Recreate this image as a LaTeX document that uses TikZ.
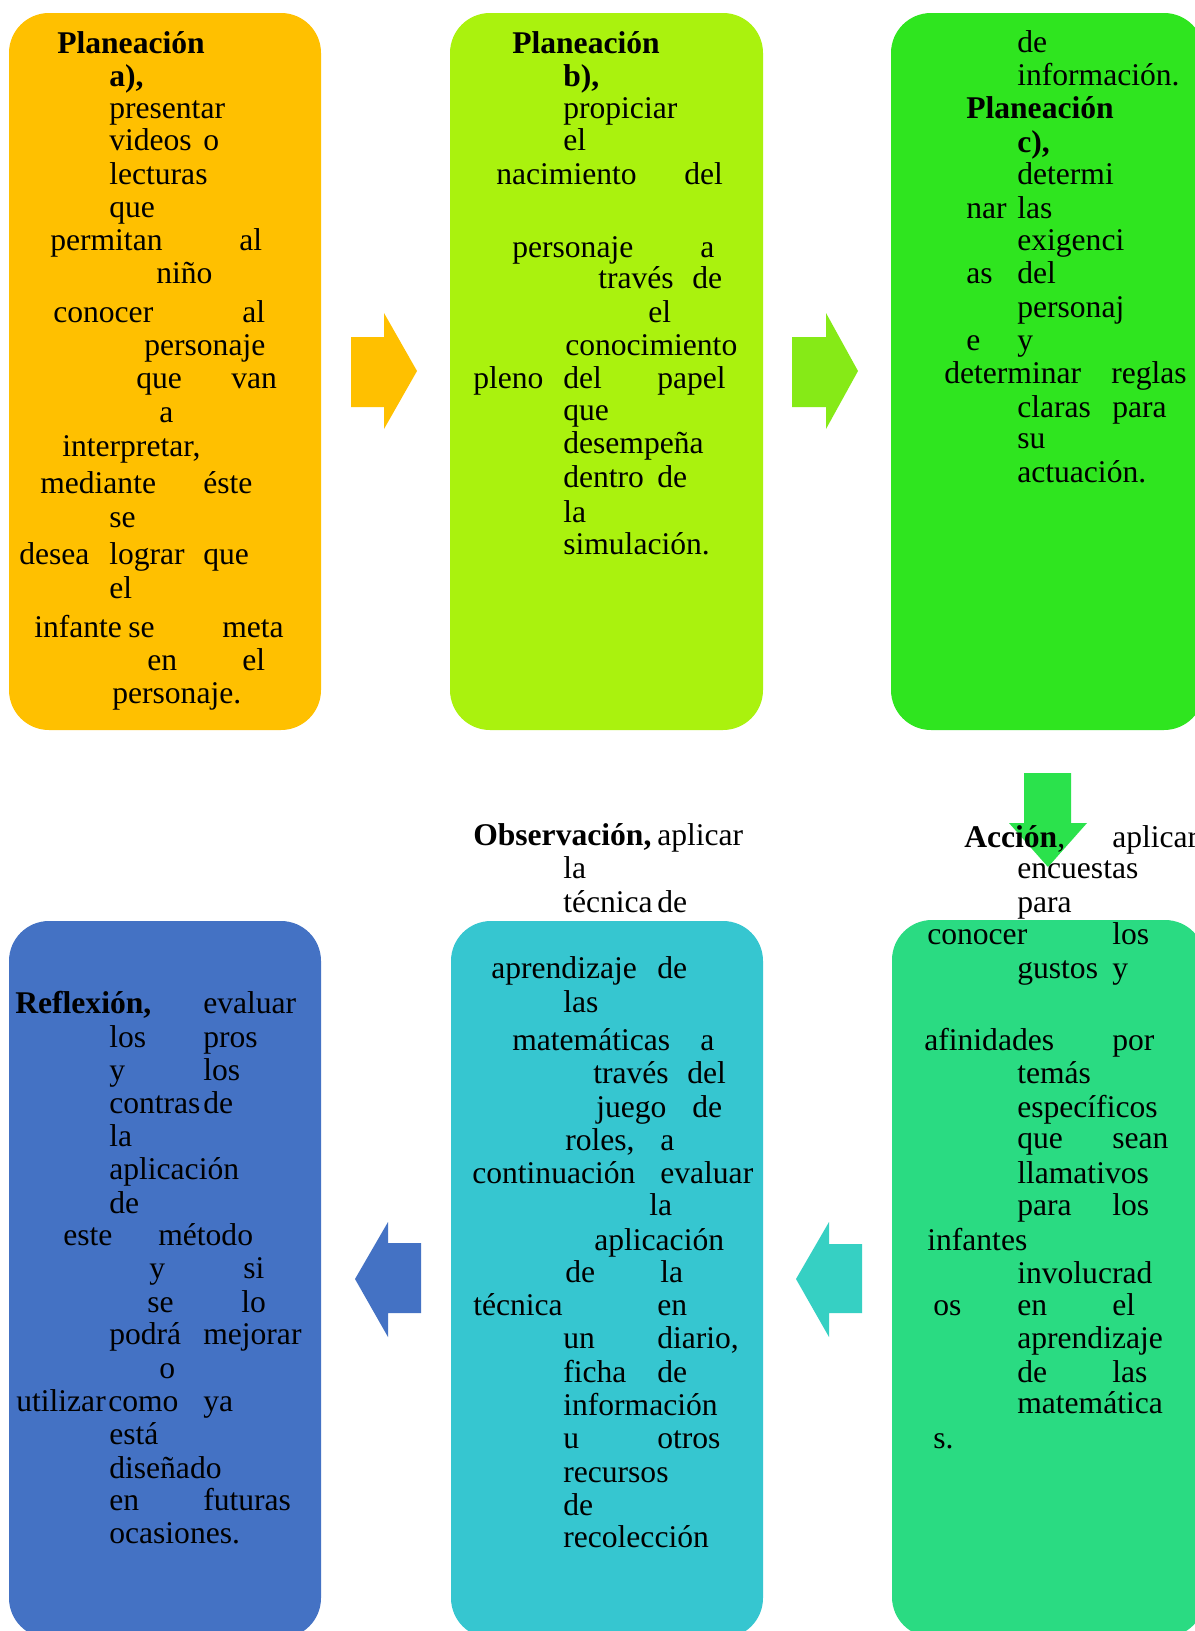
\documentclass[tikz,border=0pt]{standalone}
\usepackage{fontspec}
\setmainfont{Liberation Serif}
\definecolor{naranja}{HTML}{FFC000}
\definecolor{lima}{HTML}{AAF20E}
\definecolor{verde}{HTML}{2FE51F}
\definecolor{verdeflecha}{HTML}{86EA17}
\definecolor{verdebaja}{HTML}{2BE24C}
\definecolor{menta}{HTML}{2ADB82}
\definecolor{turquesa}{HTML}{36C6D0}
\definecolor{turqflecha}{HTML}{36D0C3}
\definecolor{azul}{HTML}{4472C4}
\begin{document}
\begin{tikzpicture}[x=0.75pt,y=-0.75pt, line join=round,
    wd/.style={anchor=base west, inner sep=0pt, font=\fontsize{23.7}{25}\selectfont},
    caja/.style={rounded corners=30pt}]
    \useasboundingbox (0,0) rectangle (1195,1631);
    \clip (0,0) rectangle (1195,1631);
    \fill[white] (0,0) rectangle (1195,1631);
    % cajas
    \fill[naranja,caja] (9,13) rectangle (321,730);
    \fill[lima,caja] (450,13) rectangle (763,730);
    \fill[verde,caja] (891,13) rectangle (1204,730);
    \fill[menta,caja] (892,920) rectangle (1205,1637);
    \fill[turquesa,caja] (451,921) rectangle (763,1638);
    \fill[azul,caja] (9,921) rectangle (321,1638);
    % flechas
    \fill[naranja] (351,337)--(384,337)--(384,313)--(417,371)--(384,429)--(384,407)--(351,407)--cycle;
    \fill[verdeflecha] (792,337)--(826,337)--(826,313)--(858,371)--(826,429)--(826,407)--(792,407)--cycle;
    \fill[verdebaja] (1024,773)--(1071,773)--(1071,823)--(1087,823)--(1048,867)--(1009,823)--(1024,823)--cycle;
    \fill[turqflecha] (862,1244)--(829,1244)--(829,1222)--(796,1279)--(829,1337)--(829,1313)--(862,1313)--cycle;
    \fill[azul] (421,1243)--(388,1243)--(388,1222)--(355,1279)--(388,1337)--(388,1313)--(421,1313)--cycle;
    % textos
    \foreach \x/\y/\t [count=\i] in {57/53/{\textbf{Planeación}}, 109/86/{\textbf{a),}}, 109/118/presentar,
        109/150/videos, 203/150/o, 109/184/lecturas, 109/217/que, 50/250/permitan, 239/250/al,
        156/283/niño, 53/322/conocer, 242/322/al, 144/355/personaje, 136/388/que, 231/388/van,
        159/422/a, 62/456/{interpretar,}, 40/493/mediante, 203/493/éste, 109/527/se,
        19/564/desea, 109/564/lograr, 203/564/que, 109/598/el, 34/637/infante, 128/637/se,
        222/637/meta, 147/670/en, 242/670/el, 112/703/personaje.}
        \node[wd] (a\i) at (\x,\y) {\t};
    \foreach \x/\y/\t [count=\i] in {512/53/{\textbf{Planeación}}, 563/86/{\textbf{b),}}, 563/118/propiciar,
        563/150/el, 496/184/nacimiento, 684/184/del, 512/257/personaje, 700/257/a,
        598/288/través, 692/288/de, 648/322/el, 565/355/conocimiento, 473/388/pleno,
        563/388/del, 657/388/papel, 563/420/que, 563/453/desempeña, 563/487/dentro,
        657/487/de, 563/522/la, 563/554/simulación.}
        \node[wd] (b\i) at (\x,\y) {\t};
    \foreach \x/\y/\t [count=\i] in {1017/52/de, 1017/85/información., 966/118/{\textbf{Planeación}},
        1017/152/{\textbf{c),}}, 1017/184/determi, 966/218/nar, 1017/218/las, 1017/250/exigenci,
        966/283/as, 1017/283/del, 1017/317/personaj, 966/350/e, 1017/350/y,
        944/383/determinar, 1111/383/reglas, 1017/417/claras, 1112/417/para,
        1017/448/su, 1017/482/actuación.}
        \node[wd] (c\i) at (\x,\y) {\t};
    \foreach \x/\y/\t [count=\i] in {964/847/{\textbf{Acción},}, 1112/847/aplicar, 1017/878/encuestas,
        1017/912/para, 927/944/conocer, 1112/944/los, 1017/978/gustos, 1112/978/y,
        924/1050/afinidades, 1112/1050/por, 1017/1083/temás, 1017/1117/específicos,
        1017/1148/que, 1112/1148/sean, 1017/1183/llamativos, 1017/1215/para, 1112/1215/los,
        927/1250/infantes, 1017/1283/involucrad, 933/1315/os, 1017/1315/en, 1112/1315/el,
        1017/1348/aprendizaje, 1017/1382/de, 1112/1382/las, 1017/1413/matemática, 933/1448/s.}
        \node[wd] (d\i) at (\x,\y) {\t};
    \foreach \x/\y/\t [count=\i] in {473/845/{\textbf{Observación,}}, 657/845/aplicar, 563/878/la,
        563/912/técnica, 657/912/de, 491/978/aprendizaje, 657/978/de, 563/1012/las,
        512/1050/matemáticas, 700/1050/a, 593/1083/través, 687/1083/del, 596/1117/juego,
        692/1117/de, 565/1150/{roles,}, 660/1150/a, 472/1183/continuación, 660/1183/evaluar,
        649/1215/la, 594/1250/aplicación, 565/1282/de, 660/1282/la, 473/1315/técnica,
        657/1315/en, 563/1348/un, 657/1348/{diario,}, 563/1382/ficha, 657/1382/de,
        563/1415/información, 563/1448/u, 657/1448/otros, 563/1482/recursos,
        563/1515/de, 563/1547/recolección}
        \node[wd] (e\i) at (\x,\y) {\t};
    \foreach \x/\y/\t [count=\i] in {15/1013/{\textbf{Reflexión,}}, 203/1013/evaluar, 109/1047/los,
        203/1047/pros, 109/1080/y, 203/1080/los, 109/1113/contras, 203/1113/de,
        109/1146/la, 109/1179/aplicación, 109/1213/de, 63/1245/este, 158/1245/método,
        149/1278/y, 243/1278/si, 147/1312/se, 241/1312/lo, 109/1344/podrá, 203/1344/mejorar,
        159/1378/o, 16/1411/utilizar, 108/1411/como, 203/1411/ya, 109/1444/está,
        109/1478/diseñado, 109/1510/en, 203/1510/futuras, 109/1543/ocasiones.}
        \node[wd] (f\i) at (\x,\y) {\t};
\end{tikzpicture}
\end{document}
